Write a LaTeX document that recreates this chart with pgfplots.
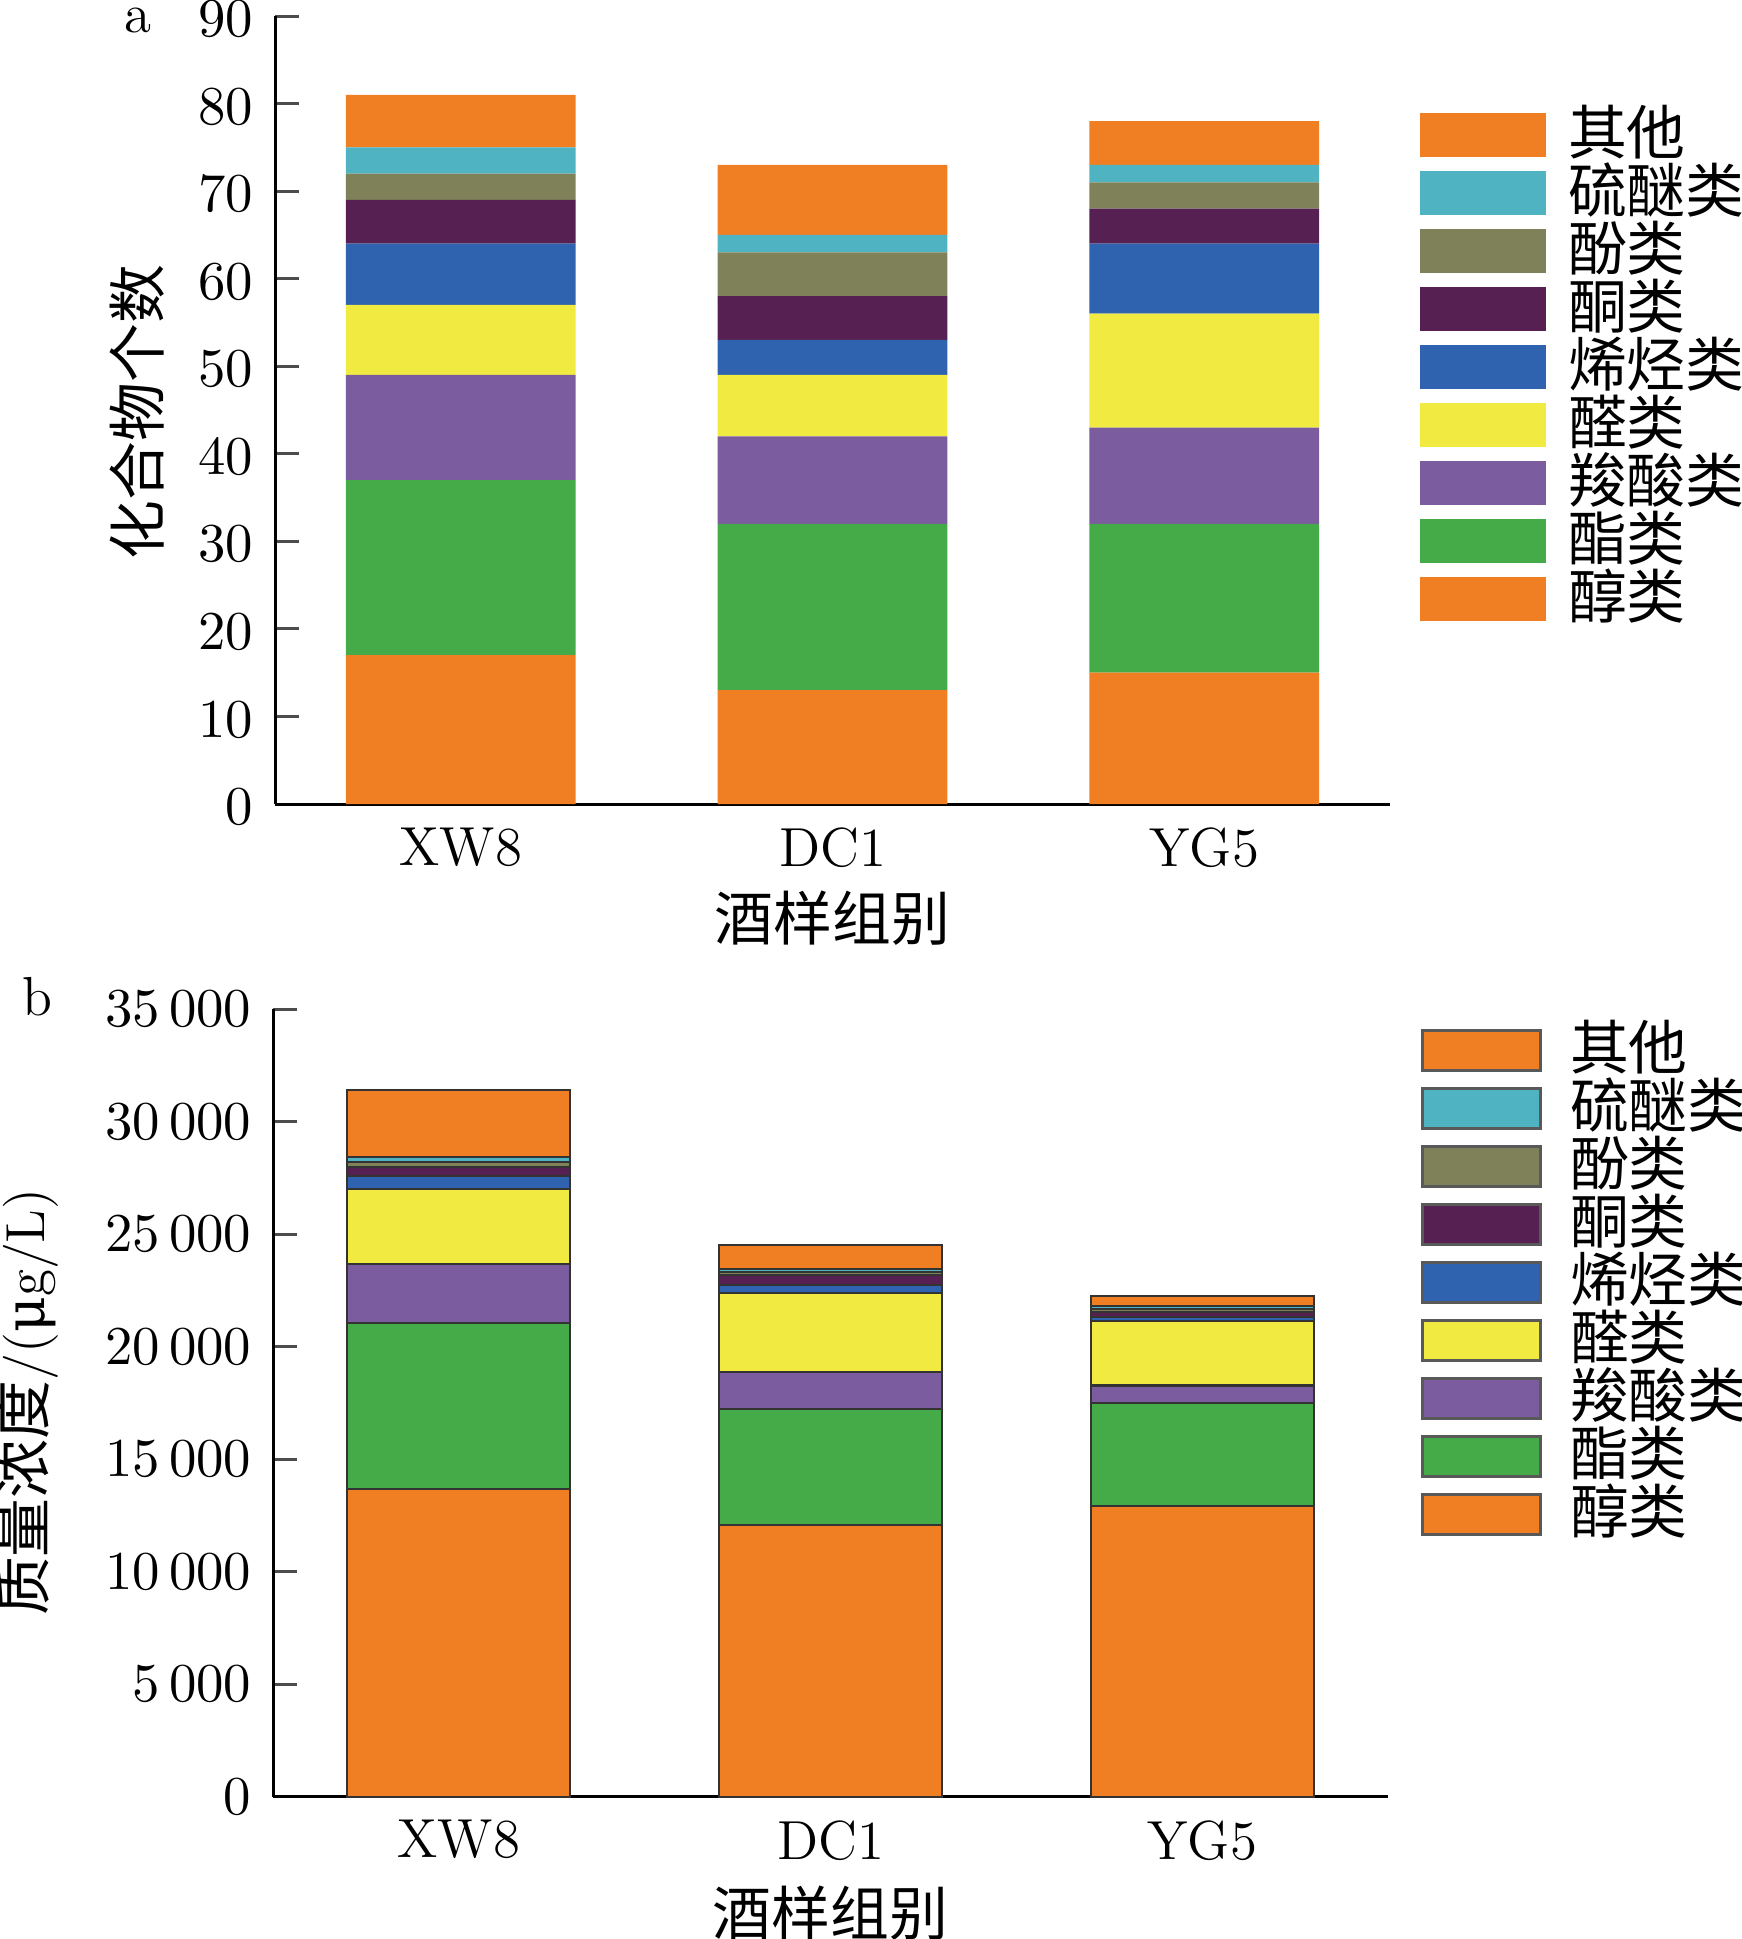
\documentclass[border=0pt]{standalone}
\usepackage{fontspec}
\usepackage{pgfplots}
\pgfplotsset{compat=1.18}
\usepackage{pgfplotstable}
\newfontfamily\cjk{Noto Sans CJK SC}[Scale=1.07]
\newfontfamily\dvs{DejaVu Serif}
\definecolor{cOr}{RGB}{239,127,34}
\definecolor{cCy}{RGB}{79,179,194}
\definecolor{cOl}{RGB}{127,130,88}
\definecolor{cDp}{RGB}{86,33,82}
\definecolor{cBl}{RGB}{47,98,175}
\definecolor{cYe}{RGB}{241,234,64}
\definecolor{cPu}{RGB}{123,92,159}
\definecolor{cGr}{RGB}{69,170,72}

\pgfplotstableread{
x alc est acid ald olef ket phen sulf oth
0 17 20 12 8 7 5 3 3 6
1 13 19 10 7 4 5 5 2 8
2 15 17 11 13 8 4 3 2 5
}\dataA

\pgfplotstableread{
x alc est acid ald olef ket phen sulf oth
0 13680 7370 2620 3330 590 400 210 230 2980
1 12070 5150 1660 3500 360 440 130 140 1070
2 12930 4580 770 2860 180 220 150 110 450
}\dataB

\pgfplotsset{
  common/.style={
    scale only axis, width=223pt,
    xmin=-0.5, xmax=2.5,
    xtick={0,1,2}, xticklabels={XW8,DC1,YG5},
    axis x line=bottom, axis y line=left,
    axis line style={-, line width=0.6pt, black},
    tick align=inside, major tick length=4.8pt,
    xtick style={draw=none},
    ytick style={line width=0.6pt, black!70},
    ybar stacked,
    xticklabel style={yshift=-1.2pt},
    clip=false,
    reverse legend,
    legend cell align=left,
    xlabel={\cjk 酒样组别},
  },
}

\begin{document}
\begin{tikzpicture}[font=\fontsize{11}{13}\selectfont]
\path[use as bounding box] (0,0) rectangle (348.2pt,-387.8pt);

% ---------- panel a ----------
\begin{axis}[common,
  at={(55pt,-160.8pt)}, anchor=south west,
  height=157.6pt,
  ymin=0, ymax=90, ytick={0,10,...,90},
  yticklabel style={xshift=-0.8pt, yshift=-0.6pt},
  bar width=0.618,
  ylabel={\cjk 化合物个数},
  ylabel style={at={(axis description cs:-0.1238,0.4975)}, anchor=center, rotate=0},
  xlabel style={at={(axis description cs:0.5,-0.1447)}, anchor=center},
  legend image code/.code={\fill[#1] (0pt,-4.4pt) rectangle (25.2pt,4.4pt);},
  legend style={draw=none, fill=none, inner sep=0pt, row sep=0pt, column sep=4.4pt,
    at={(axis description cs:1.026,0.8877)}, anchor=north west,
    nodes={inner sep=0pt, text height=9.77pt, text depth=1.83pt,
      font=\fontsize{11}{13}\selectfont\cjk}},
]
\addplot[fill=cOr, draw=none] table[x=x,y=alc]{\dataA};
\addplot[fill=cGr, draw=none] table[x=x,y=est]{\dataA};
\addplot[fill=cPu, draw=none] table[x=x,y=acid]{\dataA};
\addplot[fill=cYe, draw=none] table[x=x,y=ald]{\dataA};
\addplot[fill=cBl, draw=none] table[x=x,y=olef]{\dataA};
\addplot[fill=cDp, draw=none] table[x=x,y=ket]{\dataA};
\addplot[fill=cOl, draw=none] table[x=x,y=phen]{\dataA};
\addplot[fill=cCy, draw=none] table[x=x,y=sulf]{\dataA};
\addplot[fill=cOr, draw=none] table[x=x,y=oth]{\dataA};
\legend{醇类,酯类,羧酸类,醛类,烯烃类,酮类,酚类,硫醚类,其他}
\end{axis}

% ---------- panel b ----------
\begin{axis}[common,
  at={(54.6pt,-359.34pt)}, anchor=south west,
  height=157.5pt,
  ymin=0, ymax=35000, ytick={0,5000,...,35000},
  scaled y ticks=false,
  yticklabel style={xshift=-0.8pt, /pgf/number format/.cd, 1000 sep={\,}, fixed},
  bar width=0.6,
  ylabel={{\cjk 质量浓度}/({\dvs μ}g/L)},
  ylabel style={at={(axis description cs:-0.2206,0.501)}, anchor=center, rotate=0},
  xlabel style={at={(axis description cs:0.5,-0.1477)}, anchor=center},
  legend image code/.code={\draw[#1, draw=black!65, line width=0.6pt] (0pt,-4pt) rectangle (23.6pt,4pt);},
  legend style={draw=none, fill=none, inner sep=0pt, row sep=0pt, column sep=5.6pt,
    at={(axis description cs:1.0287,0.9863)}, anchor=north west,
    nodes={inner sep=0pt, text height=9.77pt, text depth=1.83pt,
      font=\fontsize{11}{13}\selectfont\cjk}},
  every axis plot/.append style={draw=black!80, line width=0.45pt},
]
\addplot[fill=cOr] table[x=x,y=alc]{\dataB};
\addplot[fill=cGr] table[x=x,y=est]{\dataB};
\addplot[fill=cPu] table[x=x,y=acid]{\dataB};
\addplot[fill=cYe] table[x=x,y=ald]{\dataB};
\addplot[fill=cBl] table[x=x,y=olef]{\dataB};
\addplot[fill=cDp] table[x=x,y=ket]{\dataB};
\addplot[fill=cOl] table[x=x,y=phen]{\dataB};
\addplot[fill=cCy] table[x=x,y=sulf]{\dataB};
\addplot[fill=cOr] table[x=x,y=oth]{\dataB};
\legend{醇类,酯类,羧酸类,醛类,烯烃类,酮类,酚类,硫醚类,其他}
\end{axis}

\node[anchor=center, inner sep=0pt] at (27.6pt,-4.2pt) {a};
\node[anchor=center, inner sep=0pt] at (7.5pt,-199.4pt) {b};
\end{tikzpicture}
\end{document}
